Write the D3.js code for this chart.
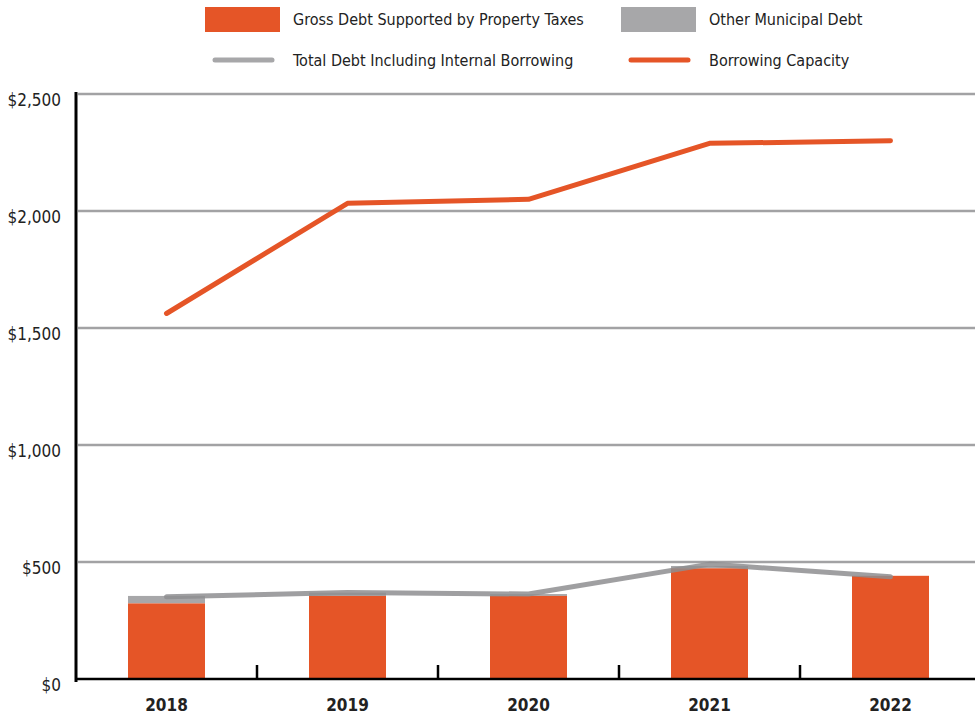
<!DOCTYPE html>
<html>
<head>
<meta charset="utf-8">
<script src="https://cdn.jsdelivr.net/npm/d3@7"></script>
<style>
  body { margin: 0; background: #fff; }
  svg text { font-family: "Liberation Sans Narrow", "DejaVu Sans Condensed", sans-serif; fill: #222; }
</style>
</head>
<body>
<div id="chart"></div>
<script>
const YEARS = ["2018", "2019", "2020", "2021", "2022"];
const GROSS_DEBT = [323, 355, 355, 473, 441];
const OTHER_DEBT = [32, 14, 8, 10, 0];
const TOTAL_DEBT = [351, 370, 363, 491, 437];
const BORROWING_CAPACITY = [1562, 2033, 2050, 2289, 2300];
const Y_TICKS = [0, 500, 1000, 1500, 2000, 2500];

const W = 975, H = 717;
const ORANGE = "#e55527", GREY = "#a7a7a9", GRID = "#a2a2a4";

const svg = d3.select("#chart").append("svg")
    .attr("width", W)
    .attr("height", H);

const x = d3.scaleBand().domain(YEARS).range([76, 981]);
const y = d3.scaleLinear().domain([0, 2500]).range([679, 94]);
const barW = 77;

// gridlines
svg.append("g")
   .selectAll("line")
   .data(Y_TICKS.filter(d => d > 0))
   .enter()
   .append("line")
   .attr("x1", 78).attr("x2", W)
   .attr("y1", d => y(d)).attr("y2", d => y(d))
   .attr("stroke", GRID)
   .attr("stroke-width", 2.5);

// y labels
svg.append("g")
   .selectAll("text")
   .data(Y_TICKS)
   .enter()
   .append("text")
   .attr("x", 61)
   .attr("y", d => y(d) + 6)
   .attr("dy", "0.35em")
   .attr("text-anchor", "end")
   .style("font-size", "17px")
   .text(d => "$" + d3.format(",")(d));

// stacked bars
const rows = YEARS.map((yr, i) => ({year: yr, gross: GROSS_DEBT[i], other: OTHER_DEBT[i]}));
const bars = svg.append("g");
bars.selectAll("rect.other")
    .data(rows)
    .enter()
    .append("rect")
    .attr("x", d => x(d.year) + x.bandwidth() / 2 - barW / 2)
    .attr("y", d => y(d.gross + d.other))
    .attr("width", barW)
    .attr("height", d => y(d.gross) - y(d.gross + d.other))
    .attr("fill", GREY);
bars.selectAll("rect.gross")
    .data(rows)
    .enter()
    .append("rect")
    .attr("x", d => x(d.year) + x.bandwidth() / 2 - barW / 2)
    .attr("y", d => y(d.gross))
    .attr("width", barW)
    .attr("height", d => y(0) - y(d.gross))
    .attr("fill", ORANGE);

const line = d3.line()
    .x((d, i) => x(YEARS[i]) + x.bandwidth() / 2)
    .y(d => y(d));

svg.append("path")
   .datum(TOTAL_DEBT)
   .attr("d", line)
   .attr("fill", "none")
   .attr("stroke", "#8e8e90")
   .attr("stroke-opacity", 0.85)
   .attr("stroke-width", 5)
   .attr("stroke-linecap", "round")
   .attr("stroke-linejoin", "round");

svg.append("path")
   .datum(BORROWING_CAPACITY)
   .attr("d", line)
   .attr("fill", "none")
   .attr("stroke", ORANGE)
   .attr("stroke-width", 5)
   .attr("stroke-linecap", "round")
   .attr("stroke-linejoin", "round");

// axes
svg.append("line")
   .attr("x1", 76).attr("x2", 76)
   .attr("y1", 92).attr("y2", 682)
   .attr("stroke", "#000").attr("stroke-width", 3);
svg.append("line")
   .attr("x1", 75).attr("x2", W)
   .attr("y1", 679).attr("y2", 679)
   .attr("stroke", "#000").attr("stroke-width", 2.5);
svg.append("g")
   .selectAll("line")
   .data(YEARS.slice(1))
   .enter()
   .append("line")
   .attr("x1", d => x(d)).attr("x2", d => x(d))
   .attr("y1", 665).attr("y2", 679)
   .attr("stroke", "#000").attr("stroke-width", 2.5);
svg.append("g")
   .selectAll("text")
   .data(YEARS)
   .enter()
   .append("text")
   .attr("x", d => x(d) + x.bandwidth() / 2)
   .attr("y", 705)
   .attr("dy", "0.35em")
   .attr("text-anchor", "middle")
   .style("font-size", "17px")
   .style("font-weight", "bold")
   .text(d => d);

// legend
const LEGEND = [
    {kind: "rect", color: ORANGE, label: "Gross Debt Supported by Property Taxes", x: 205, y: 19},
    {kind: "rect", color: GREY, label: "Other Municipal Debt", x: 621, y: 19},
    {kind: "line", color: GREY, label: "Total Debt Including Internal Borrowing", x: 205, y: 60},
    {kind: "line", color: ORANGE, label: "Borrowing Capacity", x: 621, y: 60}
];
const lg = svg.append("g");
lg.selectAll("rect")
  .data(LEGEND.filter(d => d.kind === "rect"))
  .enter()
  .append("rect")
  .attr("x", d => d.x).attr("y", d => d.y - 12)
  .attr("width", 75).attr("height", 25)
  .attr("fill", d => d.color);
lg.selectAll("line")
  .data(LEGEND.filter(d => d.kind === "line"))
  .enter()
  .append("line")
  .attr("x1", d => d.x + 10).attr("x2", d => d.x + 67)
  .attr("y1", d => d.y).attr("y2", d => d.y)
  .attr("stroke", d => d.color)
  .attr("stroke-width", 5)
  .attr("stroke-linecap", "round");
lg.selectAll("text")
  .data(LEGEND)
  .enter()
  .append("text")
  .attr("x", d => d.x + 88)
  .attr("y", d => d.y)
  .attr("dy", "0.35em")
  .style("font-size", "16px")
  .text(d => d.label);
</script>
</body>
</html>
